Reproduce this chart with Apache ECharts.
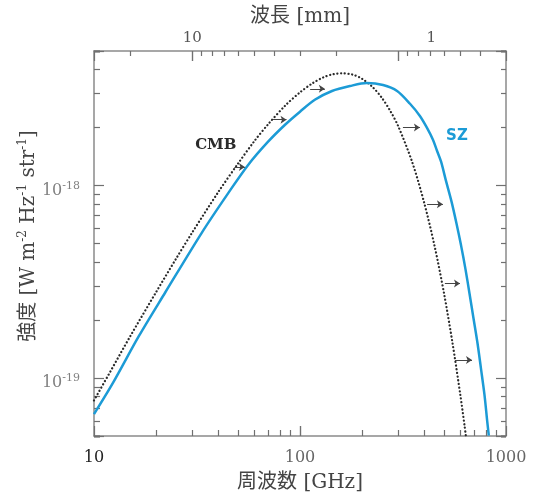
<!DOCTYPE html>
<html><head><meta charset="utf-8">
<script src="https://cdn.jsdelivr.net/npm/echarts@6/dist/echarts.min.js"></script>
<style>html,body{margin:0;padding:0;background:#fff}#c{width:537px;height:493px}</style>
</head><body><div id="c"></div>
<script>
// ---- data (frequency in GHz, intensity in W m^-2 Hz^-1 str^-1) ----
const cmbFreq = [10, 12, 15, 20, 25, 30, 40, 50, 60, 70, 85, 100, 115, 130, 145, 160, 180, 200, 225, 250, 275, 300, 350, 400, 450, 500, 550, 600, 630, 645];
const cmbIntensity = [7.65e-20, 1.08e-19, 1.65e-19, 2.79e-19, 4.16e-19, 5.71e-19, 9.21e-19, 1.30e-18, 1.70e-18, 2.08e-18, 2.61e-18, 3.05e-18, 3.40e-18, 3.65e-18, 3.79e-18, 3.83e-18, 3.77e-18, 3.59e-18, 3.25e-18, 2.85e-18, 2.43e-18, 2.03e-18, 1.33e-18, 8.2e-19, 4.86e-19, 2.76e-19, 1.52e-19, 8.2e-20, 5.6e-20, 4.6e-20];

const szFreq = [10, 12.4, 16.5, 22.2, 33.4, 45, 56, 70, 84.6, 100, 118, 143, 175, 211, 253, 296, 342, 382, 413, 442, 462, 484, 511, 544, 575, 605, 636, 665, 695, 727, 756, 786, 811, 825];
const szIntensity = [6.5e-20, 9.5e-20, 1.65e-19, 2.79e-19, 5.70e-19, 9.19e-19, 1.28e-18, 1.69e-18, 2.07e-18, 2.42e-18, 2.79e-18, 3.10e-18, 3.29e-18, 3.41e-18, 3.33e-18, 3.10e-18, 2.66e-18, 2.30e-18, 2.00e-18, 1.73e-18, 1.52e-18, 1.33e-18, 1.06e-18, 8.25e-19, 6.35e-19, 4.89e-19, 3.67e-19, 2.75e-19, 2.05e-19, 1.52e-19, 1.12e-19, 8.2e-20, 5.94e-20, 5.02e-20];

const arrowFromFreq = [48, 74, 112, 316, 414, 505, 565];
const arrowToFreq = [54, 86, 132, 382, 494, 598, 684];
const arrowIntensity = [1.25e-18, 2.2e-18, 3.18e-18, 2.0e-18, 8.0e-19, 3.1e-19, 1.24e-19];

const seriesLabels = ['CMB', 'SZ'];
const labelFreq = [39, 578];
const labelIntensity = [1.63e-18, 1.81e-18];

const freqRange = [10, 1000];
const intensityRange = [5e-20, 5e-18];
const freqTicks = [10, 100, 1000];
const freqTickLabels = ['10', '100', '1000'];
const freqMinorTicks = [20, 30, 40, 50, 60, 70, 80, 90, 200, 300, 400, 500, 600, 700, 800, 900];
const wavelengthTicks = [10, 1];
const wavelengthTickLabels = ['10', '1'];
const wavelengthMinorTicks = [20, 9, 8, 7, 6, 5, 4, 3, 2, 0.9, 0.8, 0.7, 0.6, 0.5, 0.4];
const intensityTicks = [1e-19, 1e-18];
const intensityTickExponents = ['-19', '-18'];
const minorMultipliers = [2, 3, 4, 5, 6, 7, 8, 9]; // minor log ticks at m x 10^k on the intensity axes

const C_MM_GHZ = 299.792458; // wavelength[mm] = C / frequency[GHz]

// ---- build ----
const lg = Math.log10;
const wlToF = l => C_MM_GHZ / l;
const nearestIdx = (arr, v) => { let b = 0, d = 1e9; arr.forEach((a, i) => { const dd = Math.abs(a - v); if (dd < d) { d = dd; b = i; } }); return b; };

const GRID = { left: 94, right: 31, top: 51, bottom: 57 };
const plotHeight = 493 - GRID.top - GRID.bottom;

const tickColor = '#707070';
const frameColor = '#8a8a8a';
const serif = "'DejaVu Serif', 'Noto Sans CJK JP', serif";
const xMin = lg(freqRange[0]), xMax = lg(freqRange[1]);
const yMin = lg(intensityRange[0]), yMax = lg(intensityRange[1]);
const decadesPerPx = (yMax - yMin) / plotHeight;

const lineOn = () => ({ show: true, onZero: false, lineStyle: { color: frameColor, width: 1.5 } });
const lineOff = () => ({ show: false, onZero: false });
const tickStyle = () => ({ color: tickColor, width: 1.2 });

// an axis whose scale is the data scale shifted by `shift` (in decades), so that its
// one-decade ticks fall on the log positions m x 10^k of the data scale
function tickAxis(kind, pos, shift, len, showLine) {
  const lo = kind === 'x' ? xMin : yMin, hi = kind === 'x' ? xMax : yMax;
  return { type: 'value', position: pos, gridIndex: 0, min: lo + shift, max: hi + shift,
    splitNumber: 2, minInterval: 1, maxInterval: 1,
    axisLine: showLine ? lineOn() : lineOff(), splitLine: { show: false }, axisLabel: { show: false },
    axisTick: { show: true, inside: true, length: len, lineStyle: tickStyle() } };
}

const freqMajorLog = freqTicks.map(lg);
const wlMajorLog = wavelengthTicks.map(l => lg(wlToF(l)));
const intMajorLog = intensityTicks.map(lg);
const wlShift = m => lg(m) - lg(C_MM_GHZ) + 3;

const xAxes = [
  Object.assign(tickAxis('x', 'bottom', 0, 10, true), {
    axisLabel: { show: true, margin: 14, customValues: freqMajorLog,
      formatter: v => { const i = nearestIdx(freqMajorLog, v); return (i === 0 ? '{d|' : '{g|') + freqTickLabels[i] + '}'; },
      rich: { d: { fontFamily: serif, fontSize: 16, color: '#222' }, g: { fontFamily: serif, fontSize: 16, color: '#666' } } },
    name: '周波数 [GHz]', nameLocation: 'middle', nameGap: 35, nameMoveOverlap: false,
    nameTextStyle: { fontFamily: serif, fontSize: 20, color: '#444', lineHeight: 24 }
  }),
  Object.assign(tickAxis('x', 'top', wlShift(1), 10, true), {
    axisLabel: { show: true, margin: 5, customValues: wlMajorLog.map(v => v + wlShift(1)),
      formatter: v => { const i = nearestIdx(wlMajorLog, v - wlShift(1)); return (i === 0 ? '{a|' : '{r|') + wavelengthTickLabels[i] + '}'; },
      rich: { a: { fontFamily: serif, fontSize: 15, color: '#555' }, r: { fontFamily: serif, fontSize: 15, color: '#555', padding: [0, 0, 0, 66] } } },
    name: '波長 [mm]', nameLocation: 'middle', nameGap: 22, nameMoveOverlap: false,
    nameTextStyle: { fontFamily: serif, fontSize: 20, color: '#444', lineHeight: 24 }
  })
];

const yLabelRich = {
  b: { fontFamily: serif, fontSize: 16, color: '#808080', lineHeight: 20 },
  s: { fontFamily: serif, fontSize: 11, color: '#808080', lineHeight: 12, verticalAlign: 'top' }
};
const yAxes = [
  Object.assign(tickAxis('y', 'left', 0, 10, true), {
    axisLabel: { show: true, margin: 14, padding: [10, 0, 0, 0], customValues: intMajorLog,
      formatter: v => '{b|10}{s|' + intensityTickExponents[nearestIdx(intMajorLog, v)] + '}', rich: yLabelRich },
    name: '強度 [W m{s|-2} Hz{s|-1} str{s|-1}]', nameLocation: 'middle', nameGap: 53, nameMoveOverlap: false,
    nameTextStyle: { fontFamily: serif, fontSize: 20, color: '#444', lineHeight: 24, padding: [0, 0, 0, 15],
      rich: { s: { fontFamily: serif, fontSize: 12, color: '#444', lineHeight: 14, verticalAlign: 'top' } } }
  }),
  tickAxis('y', 'right', 0, 10, true)
];
minorMultipliers.forEach(m => {
  yAxes.push(tickAxis('y', 'left', -lg(m), 6, false));
  yAxes.push(tickAxis('y', 'right', -lg(m), 5, false));
});

// frequency / wavelength tick marks on the bottom and top edges, placed through the data scales
function edgeTick(f, lenPx, onTop) {
  const x = lg(f);
  const y0 = onTop ? yMax : yMin;
  const y1 = onTop ? yMax - lenPx * decadesPerPx : yMin + lenPx * decadesPerPx;
  return [{ coord: [x, y0] }, { coord: [x, y1] }];
}
const edgeTicks = [].concat(
  freqTicks.slice(1, -1).map(f => edgeTick(f, 10, false)),
  freqMinorTicks.map(f => edgeTick(f, 6, false)),
  wavelengthTicks.map(l => edgeTick(wlToF(l), 10, true)),
  wavelengthMinorTicks.map(l => edgeTick(wlToF(l), 5, true))
);

const cmbData = cmbFreq.map((f, i) => [lg(f), lg(cmbIntensity[i])]);
const szData = szFreq.map((f, i) => [lg(f), lg(szIntensity[i])]);
const arrowLines = arrowFromFreq.map((f, i) => [
  { coord: [lg(f), lg(arrowIntensity[i])] },
  { coord: [lg(arrowToFreq[i]), lg(arrowIntensity[i])] }
]);

const option = {
  animation: false,
  backgroundColor: '#fff',
  grid: Object.assign({ show: false, containLabel: false, outerBoundsMode: 'none' }, GRID),
  xAxis: xAxes,
  yAxis: yAxes,
  series: [
    { type: 'line', name: 'CMB', xAxisIndex: 0, yAxisIndex: 0, data: cmbData, showSymbol: false, smooth: 0.3,
      lineStyle: { color: '#2a2a2a', width: 2.2, type: [0.1, 3.6], cap: 'round' }, silent: true,
      markPoint: { symbol: 'circle', symbolSize: 0, silent: true,
        data: [{ name: seriesLabels[0], coord: [lg(labelFreq[0]), lg(labelIntensity[0])] }],
        label: { show: true, position: 'inside', formatter: '{b}', fontFamily: 'DejaVu Serif', fontWeight: 'bold', fontSize: 15, color: '#2a2a2a' } },
      markLine: { silent: true, symbol: ['none', 'none'], label: { show: false },
        lineStyle: { color: tickColor, width: 1.2, type: 'solid' }, emphasis: { disabled: true },
        data: edgeTicks } },
    { type: 'line', name: 'SZ', xAxisIndex: 0, yAxisIndex: 0, data: szData, showSymbol: false, smooth: 0.3,
      lineStyle: { color: '#1c9bd6', width: 2.5 }, silent: true,
      markPoint: { symbol: 'circle', symbolSize: 0, silent: true,
        data: [{ name: seriesLabels[1], coord: [lg(labelFreq[1]), lg(labelIntensity[1])] }],
        label: { show: true, position: 'inside', formatter: '{b}', fontFamily: 'DejaVu Sans', fontWeight: 'bold', fontSize: 15, color: '#1c9bd6' } },
      markLine: { silent: true, symbol: ['none', 'arrow'], symbolSize: 6, label: { show: false },
        lineStyle: { color: '#444', width: 1, type: 'solid' }, emphasis: { disabled: true },
        data: arrowLines } }
  ]
};
echarts.init(document.getElementById('c'), null, { renderer: 'canvas' }).setOption(option);
</script></body></html>
